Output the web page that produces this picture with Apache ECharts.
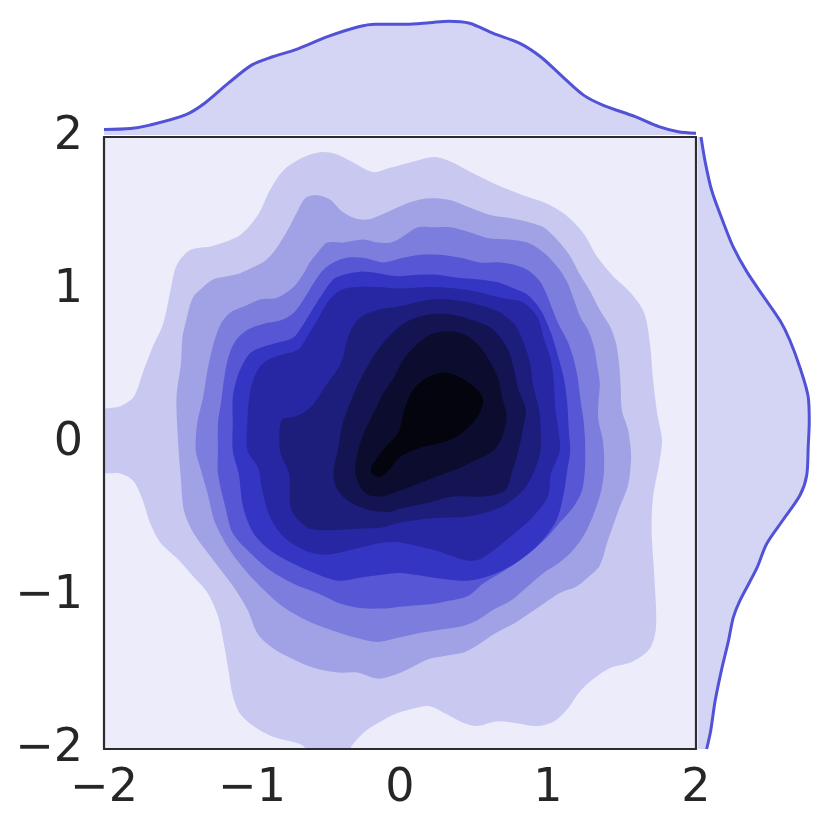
<!DOCTYPE html>
<html lang="en">
<head>
<meta charset="UTF-8">
<title>KDE joint plot</title>
<script src="https://cdn.jsdelivr.net/npm/echarts@6/dist/echarts.min.js"></script>
<style>html,body{margin:0;padding:0;background:#fff;}</style>
</head>
<body>
<div id="main" style="width:830px;height:830px;"></div>
<script>
// filled density contours, outermost level first ([x, y])
var level1 = [[-2.04,0.20],[-1.89,0.24],[-1.80,0.30],[-1.73,0.48],[-1.67,0.63],[-1.60,0.78],[-1.55,1.00],[-1.51,1.16],[-1.42,1.26],[-1.26,1.29],[-1.08,1.36],[-0.96,1.49],[-0.88,1.65],[-0.79,1.78],[-0.67,1.86],[-0.54,1.90],[-0.44,1.89],[-0.31,1.83],[-0.18,1.77],[-0.06,1.80],[0.09,1.84],[0.23,1.87],[0.34,1.84],[0.48,1.77],[0.65,1.69],[0.83,1.62],[0.98,1.57],[1.12,1.49],[1.24,1.37],[1.33,1.22],[1.44,1.09],[1.56,0.98],[1.65,0.85],[1.69,0.64],[1.71,0.41],[1.74,0.18],[1.77,0.02],[1.75,-0.14],[1.71,-0.35],[1.70,-0.57],[1.72,-0.90],[1.73,-1.20],[1.69,-1.34],[1.57,-1.43],[1.42,-1.47],[1.31,-1.54],[1.21,-1.63],[1.13,-1.74],[1.04,-1.82],[0.92,-1.85],[0.78,-1.83],[0.65,-1.82],[0.52,-1.85],[0.43,-1.83],[0.31,-1.77],[0.20,-1.72],[0.07,-1.74],[-0.03,-1.77],[-0.13,-1.82],[-0.23,-1.88],[-0.32,-1.97],[-0.37,-2.05],[-0.57,-2.05],[-0.67,-1.97],[-0.86,-1.92],[-0.99,-1.85],[-1.08,-1.77],[-1.13,-1.65],[-1.16,-1.48],[-1.19,-1.31],[-1.23,-1.13],[-1.30,-0.98],[-1.40,-0.87],[-1.50,-0.76],[-1.62,-0.65],[-1.69,-0.52],[-1.74,-0.37],[-1.80,-0.25],[-1.89,-0.20],[-2.04,-0.18]];
var level2 = [[-1.50,0.02],[-1.51,0.30],[-1.48,0.52],[-1.47,0.69],[-1.44,0.82],[-1.40,0.95],[-1.33,1.02],[-1.26,1.07],[-1.17,1.09],[-1.08,1.11],[-0.99,1.15],[-0.90,1.20],[-0.83,1.28],[-0.76,1.39],[-0.69,1.52],[-0.64,1.60],[-0.56,1.62],[-0.47,1.59],[-0.40,1.52],[-0.31,1.47],[-0.22,1.46],[-0.13,1.49],[-0.04,1.53],[0.09,1.58],[0.20,1.60],[0.33,1.59],[0.47,1.54],[0.61,1.49],[0.74,1.47],[0.88,1.44],[0.97,1.41],[1.06,1.33],[1.15,1.22],[1.21,1.11],[1.28,1.00],[1.35,0.87],[1.42,0.76],[1.46,0.65],[1.48,0.52],[1.49,0.39],[1.50,0.21],[1.54,0.09],[1.56,-0.05],[1.56,-0.13],[1.54,-0.28],[1.48,-0.43],[1.44,-0.54],[1.40,-0.65],[1.35,-0.80],[1.28,-0.87],[1.19,-0.94],[1.08,-0.98],[0.97,-1.05],[0.88,-1.11],[0.77,-1.18],[0.65,-1.24],[0.54,-1.31],[0.43,-1.37],[0.31,-1.39],[0.20,-1.41],[0.09,-1.46],[-0.02,-1.51],[-0.15,-1.54],[-0.29,-1.50],[-0.42,-1.50],[-0.58,-1.47],[-0.73,-1.41],[-0.86,-1.34],[-0.96,-1.25],[-1.03,-1.09],[-1.11,-0.96],[-1.17,-0.88],[-1.29,-0.73],[-1.40,-0.58],[-1.46,-0.44],[-1.48,-0.24]];
var level3 = [[-1.38,-0.05],[-1.37,0.13],[-1.33,0.30],[-1.30,0.48],[-1.26,0.65],[-1.21,0.78],[-1.15,0.85],[-1.06,0.89],[-0.94,0.94],[-0.83,0.95],[-0.72,1.02],[-0.65,1.11],[-0.61,1.18],[-0.56,1.24],[-0.49,1.31],[-0.38,1.31],[-0.25,1.33],[-0.15,1.31],[-0.06,1.31],[0.02,1.35],[0.12,1.41],[0.23,1.41],[0.34,1.41],[0.46,1.38],[0.59,1.34],[0.73,1.33],[0.86,1.31],[0.95,1.26],[1.02,1.20],[1.08,1.13],[1.13,1.05],[1.17,0.95],[1.22,0.82],[1.27,0.74],[1.31,0.63],[1.33,0.52],[1.35,0.39],[1.34,0.26],[1.34,0.15],[1.37,0.02],[1.38,-0.16],[1.36,-0.31],[1.31,-0.46],[1.25,-0.59],[1.17,-0.70],[1.08,-0.78],[0.97,-0.85],[0.86,-0.94],[0.75,-1.03],[0.63,-1.09],[0.52,-1.16],[0.41,-1.20],[0.27,-1.22],[0.14,-1.24],[0.00,-1.27],[-0.15,-1.30],[-0.31,-1.27],[-0.47,-1.22],[-0.63,-1.16],[-0.79,-1.07],[-0.92,-0.96],[-1.03,-0.85],[-1.15,-0.70],[-1.25,-0.52],[-1.30,-0.33],[-1.35,-0.16]];
var level4 = [[-1.23,-0.05],[-1.23,0.13],[-1.21,0.26],[-1.19,0.41],[-1.16,0.56],[-1.11,0.67],[-1.03,0.74],[-0.92,0.78],[-0.81,0.80],[-0.72,0.85],[-0.65,0.94],[-0.58,1.05],[-0.52,1.13],[-0.45,1.18],[-0.36,1.21],[-0.25,1.21],[-0.11,1.18],[0.02,1.21],[0.14,1.23],[0.27,1.23],[0.41,1.21],[0.54,1.18],[0.68,1.18],[0.79,1.16],[0.88,1.12],[0.95,1.05],[1.00,0.95],[1.04,0.85],[1.08,0.76],[1.13,0.67],[1.17,0.56],[1.20,0.43],[1.22,0.28],[1.24,0.15],[1.25,0.02],[1.25,-0.16],[1.23,-0.31],[1.17,-0.42],[1.08,-0.52],[1.00,-0.61],[0.90,-0.70],[0.79,-0.78],[0.68,-0.85],[0.56,-0.92],[0.46,-1.00],[0.34,-1.03],[0.23,-1.05],[0.12,-1.06],[0.00,-1.07],[-0.08,-1.08],[-0.25,-1.08],[-0.40,-1.05],[-0.56,-0.98],[-0.72,-0.92],[-0.88,-0.83],[-1.01,-0.72],[-1.13,-0.59],[-1.18,-0.42],[-1.23,-0.20]];
var level5 = [[-1.13,-0.05],[-1.13,0.13],[-1.13,0.30],[-1.10,0.43],[-1.06,0.52],[-1.01,0.59],[-0.92,0.63],[-0.81,0.66],[-0.72,0.69],[-0.65,0.78],[-0.58,0.89],[-0.52,0.98],[-0.45,1.07],[-0.38,1.10],[-0.27,1.12],[-0.15,1.11],[-0.02,1.09],[0.12,1.10],[0.25,1.10],[0.39,1.08],[0.52,1.07],[0.66,1.05],[0.77,1.01],[0.86,0.97],[0.95,0.87],[1.02,0.72],[1.07,0.56],[1.11,0.41],[1.13,0.26],[1.14,0.09],[1.15,-0.05],[1.13,-0.18],[1.11,-0.31],[1.06,-0.50],[0.95,-0.65],[0.79,-0.78],[0.63,-0.86],[0.46,-0.90],[0.23,-0.88],[0.00,-0.85],[-0.11,-0.86],[-0.27,-0.88],[-0.42,-0.90],[-0.58,-0.85],[-0.74,-0.78],[-0.88,-0.70],[-0.99,-0.59],[-1.06,-0.42],[-1.09,-0.20]];
var level6 = [[-1.03,-0.05],[-1.03,0.17],[-1.01,0.35],[-0.96,0.48],[-0.90,0.54],[-0.79,0.58],[-0.69,0.61],[-0.63,0.69],[-0.56,0.80],[-0.49,0.92],[-0.40,1.00],[-0.29,1.02],[-0.15,1.02],[-0.02,1.01],[0.23,1.02],[0.46,1.00],[0.68,0.95],[0.83,0.92],[0.93,0.82],[0.97,0.69],[1.02,0.54],[1.04,0.39],[1.05,0.22],[1.07,0.09],[1.08,-0.05],[1.02,-0.20],[1.00,-0.35],[0.90,-0.48],[0.75,-0.61],[0.56,-0.75],[0.46,-0.77],[0.23,-0.70],[0.00,-0.65],[-0.11,-0.65],[-0.25,-0.68],[-0.38,-0.71],[-0.52,-0.73],[-0.65,-0.70],[-0.79,-0.61],[-0.88,-0.48],[-0.93,-0.31],[-0.96,-0.16]];
var level7 = [[-0.81,-0.05],[-0.80,0.15],[-0.72,0.17],[-0.65,0.20],[-0.58,0.26],[-0.49,0.39],[-0.40,0.52],[-0.34,0.72],[-0.27,0.82],[-0.15,0.87],[-0.02,0.89],[0.23,0.94],[0.46,0.92],[0.66,0.86],[0.77,0.78],[0.83,0.67],[0.88,0.52],[0.90,0.37],[0.94,0.22],[0.95,0.09],[0.95,-0.05],[0.90,-0.20],[0.83,-0.31],[0.68,-0.42],[0.46,-0.48],[0.23,-0.49],[0.00,-0.52],[-0.11,-0.55],[-0.29,-0.56],[-0.47,-0.57],[-0.61,-0.56],[-0.69,-0.50],[-0.74,-0.42],[-0.75,-0.20]];
var level8 = [[-0.42,-0.05],[-0.39,0.12],[-0.33,0.28],[-0.27,0.41],[-0.17,0.58],[-0.06,0.71],[0.04,0.79],[0.19,0.84],[0.34,0.84],[0.50,0.80],[0.63,0.74],[0.73,0.61],[0.77,0.48],[0.80,0.35],[0.85,0.22],[0.83,0.09],[0.80,-0.05],[0.76,-0.18],[0.71,-0.31],[0.56,-0.35],[0.36,-0.35],[0.19,-0.39],[0.00,-0.43],[-0.06,-0.45],[-0.20,-0.44],[-0.33,-0.39],[-0.42,-0.31],[-0.45,-0.20]];
var level9 = [[-0.29,-0.08],[-0.25,0.05],[-0.17,0.21],[-0.11,0.33],[-0.04,0.43],[0.02,0.54],[0.11,0.64],[0.21,0.71],[0.33,0.73],[0.43,0.71],[0.52,0.65],[0.59,0.56],[0.66,0.43],[0.69,0.30],[0.72,0.17],[0.69,0.04],[0.63,-0.05],[0.54,-0.10],[0.41,-0.16],[0.27,-0.21],[0.14,-0.26],[0.00,-0.31],[-0.13,-0.35],[-0.23,-0.33],[-0.30,-0.21]];
var level10 = [[-0.19,-0.15],[-0.10,-0.03],[-0.01,0.07],[0.03,0.22],[0.09,0.35],[0.19,0.43],[0.31,0.46],[0.42,0.42],[0.51,0.36],[0.56,0.29],[0.54,0.20],[0.48,0.12],[0.38,0.04],[0.27,0.00],[0.14,-0.03],[0.00,-0.09],[-0.06,-0.16],[-0.13,-0.22],[-0.19,-0.20]];
var levelColors = ['#C8C8F0', '#A1A1E6', '#7D7DDE', '#5757D6', '#3535C4', '#2727A3', '#1D1D7C', '#141452', '#0C0C2E', '#04040F'];
var baseColor = '#ECECFA';

// marginal densities
var topX = [-2.0,-1.82,-1.69,-1.45,-1.32,-1.16,-1.00,-0.86,-0.70,-0.49,-0.28,-0.17,0.04,0.20,0.33,0.47,0.63,0.81,0.95,1.11,1.24,1.37,1.59,1.75,1.88,2.0];
var topDensity = [0.022,0.026,0.039,0.079,0.125,0.204,0.276,0.308,0.337,0.387,0.426,0.436,0.436,0.442,0.448,0.440,0.400,0.361,0.308,0.223,0.157,0.118,0.072,0.033,0.013,0.007];
var rightY = [2.0,1.84,1.65,1.44,1.28,1.12,0.96,0.80,0.67,0.49,0.30,0.14,-0.02,-0.21,-0.34,-0.50,-0.66,-0.82,-1.03,-1.14,-1.30,-1.48,-1.69,-1.88,-2.0];
var rightDensity = [0.012,0.028,0.054,0.100,0.139,0.192,0.257,0.323,0.362,0.402,0.434,0.438,0.434,0.428,0.402,0.336,0.270,0.231,0.165,0.139,0.119,0.093,0.067,0.050,0.034];

var contours = [level1, level2, level3, level4, level5, level6, level7, level8, level9, level10];
var lineColor = '#5252D6';
var frameColor = '#2B2B30';
var labelFont = { fontFamily: 'DejaVu Sans', fontSize: 46, color: '#262626' };

function minusLabel(v) { return String(v).replace('-', '\u2212'); }

var myChart = echarts.init(document.getElementById('main'));

var frameAxis = {
    min: -2, max: 2, interval: 1, z: 10,
    axisLine: { show: true, onZero: false, lineStyle: { color: frameColor, width: 2.2 } },
    axisTick: { show: false },
    splitLine: { show: false }
};

myChart.setOption({
    backgroundColor: '#ffffff',
    animation: false,
    grid: [
        { left: 104, top: 137, width: 592, height: 612, show: true, backgroundColor: baseColor, borderWidth: 0, outerBoundsMode: 'none' },
        { left: 104, top: 8, width: 592, height: 127, outerBoundsMode: 'none' },
        { left: 698, top: 137, width: 127, height: 612, outerBoundsMode: 'none' }
    ],
    xAxis: [
        Object.assign({}, frameAxis, { type: 'value', gridIndex: 0, position: 'bottom',
            axisLabel: Object.assign({ margin: 17, formatter: minusLabel }, labelFont) }),
        Object.assign({}, frameAxis, { type: 'value', gridIndex: 0, position: 'top', axisLabel: { show: false } }),
        { type: 'value', gridIndex: 1, min: -2, max: 2, show: false },
        { type: 'value', gridIndex: 2, min: 0, max: 0.5, show: false }
    ],
    yAxis: [
        Object.assign({}, frameAxis, { type: 'value', gridIndex: 0, position: 'left',
            axisLabel: Object.assign({ margin: 21, padding: [12, 0, 0, 0], formatter: minusLabel }, labelFont) }),
        Object.assign({}, frameAxis, { type: 'value', gridIndex: 0, position: 'right', axisLabel: { show: false } }),
        { type: 'value', gridIndex: 1, min: 0, max: 0.5, show: false },
        { type: 'value', gridIndex: 2, min: -2, max: 2, show: false }
    ],
    series: [
        {
            type: 'custom',
            xAxisIndex: 0, yAxisIndex: 0,
            clip: true,
            data: contours.map(function (c, i) { return [i]; }),
            renderItem: function (params, api) {
                var idx = api.value(0);
                var pts = contours[idx].map(function (p) { return api.coord(p); });
                return { type: 'polygon', shape: { points: pts, smooth: 0.3 }, style: { fill: levelColors[idx], stroke: null } };
            }
        },
        {
            type: 'custom',
            xAxisIndex: 2, yAxisIndex: 2,
            data: [[0]],
            renderItem: function (params, api) {
                var pts = [api.coord([topX[0], 0])];
                for (var i = 0; i < topX.length; i++) pts.push(api.coord([topX[i], topDensity[i]]));
                pts.push(api.coord([topX[topX.length - 1], 0]));
                return { type: 'polygon', shape: { points: pts }, style: { fill: lineColor, opacity: 0.25 } };
            }
        },
        {
            type: 'line', xAxisIndex: 2, yAxisIndex: 2, smooth: 0.3, symbol: 'none',
            lineStyle: { color: lineColor, width: 3 },
            data: topX.map(function (x, i) { return [x, topDensity[i]]; })
        },
        {
            type: 'custom',
            xAxisIndex: 3, yAxisIndex: 3,
            data: [[0]],
            renderItem: function (params, api) {
                var pts = [api.coord([0, rightY[0]])];
                for (var i = 0; i < rightY.length; i++) pts.push(api.coord([rightDensity[i], rightY[i]]));
                pts.push(api.coord([0, rightY[rightY.length - 1]]));
                return { type: 'polygon', shape: { points: pts }, style: { fill: lineColor, opacity: 0.25 } };
            }
        },
        {
            type: 'line', xAxisIndex: 3, yAxisIndex: 3, smooth: 0.3, symbol: 'none',
            lineStyle: { color: lineColor, width: 3 },
            data: rightY.map(function (y, i) { return [rightDensity[i], y]; })
        }
    ]
});
</script>
</body>
</html>
